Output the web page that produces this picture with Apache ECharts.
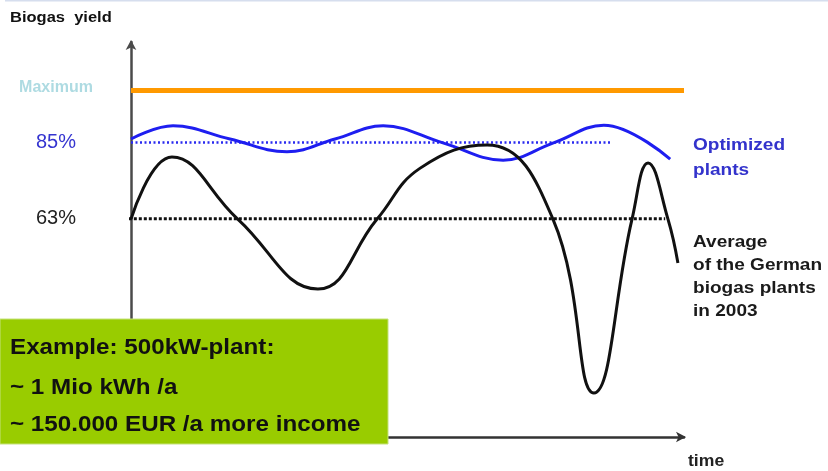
<!DOCTYPE html>
<html>
<head>
<meta charset="utf-8">
<script src="https://cdn.jsdelivr.net/npm/echarts@6/dist/echarts.min.js"></script>
<style>
  html, body { margin: 0; padding: 0; background: #ffffff; }
  #chart { width: 828px; height: 471px; }
</style>
</head>
<body>
<div id="chart"></div>
<script>
// Biogas yield over time: optimized plants vs. the German average (2003)

// Reference levels (percent of maximum yield)
const maxLevel = 100;
const optimizedLevel = 85;
const averageLevel = 63;

// Horizontal extent (time units) of each reference line
const maxLineTime = [0, 100];
const optimizedLineTime = [0, 87];
const averageLineTime = [-1.3, 96.6];

// Optimized plants: yield oscillating around the 85 % level
const optimizedTime  = [0,    7.6,  17.9, 28.2, 36.9, 45.6, 56.4, 67.3, 76.4, 85.5, 97.5];
const optimizedYield = [86.0, 89.8, 86.0, 82.3, 86.0, 89.8, 84.9, 79.9, 84.9, 90.0, 80.2];

// Average German biogas plant (2003)
const averageTime  = [0,    7.4,  19.3, 33.8, 44.5, 52.3, 64.4, 76.3, 83.7, 90.6, 93.5, 97.1, 98.9];
const averageYield = [62.9, 80.8, 62.9, 42.7, 62.9, 77.6, 84.3, 62.9, 12.7, 62.9, 79.1, 62.9, 50.2];

// Labels on the yield axis
const tickValues = [averageLevel, optimizedLevel, maxLevel];
const tickLabels = ['63%', '85%', 'Maximum'];

const pairs = (xs, ys) => xs.map((x, i) => [x, ys[i]]);
const flat = (xs, level) => xs.map(x => [x, level]);

const FONT = '"Liberation Sans", Arial, sans-serif';
const chart = echarts.init(document.getElementById('chart'), null, { renderer: 'canvas' });

chart.setOption({
  animation: false,
  backgroundColor: '#ffffff',
  grid: { left: 131, right: 144, top: 42, bottom: 34 },
  xAxis: {
    type: 'value',
    min: 0,
    max: 100,
    axisLine: {
      show: true,
      lineStyle: { color: '#333333', width: 2.5 },
      symbol: ['none', 'arrow'],
      symbolSize: [8, 10],
      symbolOffset: [0, 2]
    },
    axisTick: { show: false },
    axisLabel: { show: false },
    splitLine: { show: false }
  },
  yAxis: {
    type: 'value',
    min: 0,
    max: 114,
    axisLine: {
      show: true,
      lineStyle: { color: '#4a4a4a', width: 2.5 },
      symbol: ['none', 'arrow'],
      symbolSize: [8, 10],
      symbolOffset: [0, 2]
    },
    axisTick: { show: false },
    splitLine: { show: false },
    axisLabel: {
      customValues: tickValues,
      align: 'center',
      margin: 75,
      formatter: function (v) {
        const i = tickValues.indexOf(v);
        const style = v === maxLevel ? 'max' : (v === optimizedLevel ? 'opt' : 'avg');
        return '{' + style + '|' + tickLabels[i] + '}';
      },
      rich: {
        max: { fontFamily: FONT, fontSize: 16, fontWeight: 'bold', color: '#aedbe2', padding: [0, 0, 5, 0] },
        opt: { fontFamily: FONT, fontSize: 20, color: '#3535d0' },
        avg: { fontFamily: FONT, fontSize: 20, color: '#222222' }
      }
    }
  },
  series: [
    {
      name: 'Maximum',
      type: 'line',
      data: flat(maxLineTime, maxLevel),
      symbol: 'none',
      lineStyle: { color: '#ff9900', width: 5, cap: 'butt' },
      z: 2
    },
    {
      name: '85%',
      type: 'line',
      data: flat(optimizedLineTime, optimizedLevel),
      symbol: 'none',
      lineStyle: { color: '#2a2af0', width: 2.5, type: [2, 2.5] },
      z: 2
    },
    {
      name: '63%',
      type: 'line',
      data: flat(averageLineTime, averageLevel),
      symbol: 'none',
      clip: false,
      lineStyle: { color: '#111111', width: 3, type: [3, 2] },
      z: 2
    },
    {
      name: 'Optimized plants',
      type: 'line',
      data: pairs(optimizedTime, optimizedYield),
      symbol: 'none',
      smooth: 0.4,
      lineStyle: { color: '#1e1ef0', width: 3 },
      z: 3
    },
    {
      name: 'Average of the German biogas plants in 2003',
      type: 'line',
      data: pairs(averageTime, averageYield),
      symbol: 'none',
      smooth: 0.45,
      clip: false,
      lineStyle: { color: '#111111', width: 3 },
      z: 4
    }
  ],
  graphic: [
    {
      type: 'line',
      z: 50,
      shape: { x1: 5, y1: 0.5, x2: 828, y2: 0.5 },
      style: { stroke: '#d6deee', lineWidth: 2 }
    },
    {
      type: 'text', z: 50, x: 10, y: 18, scaleX: 1.1,
      style: { text: 'Biogas  yield', font: 'bold 15px ' + FONT, fill: '#111111', verticalAlign: 'middle' }
    },
    {
      type: 'text', z: 50, x: 688, y: 462, scaleX: 1.1,
      style: { text: 'time', font: 'bold 16px ' + FONT, fill: '#222222', verticalAlign: 'middle' }
    },
    {
      type: 'text', z: 50, x: 693, y: 133, scaleX: 1.12,
      style: { text: 'Optimized\nplants', font: 'bold 17px ' + FONT, lineHeight: 25, fill: '#3333cc', verticalAlign: 'top' }
    },
    {
      type: 'text', z: 50, x: 693, y: 231, scaleX: 1.12,
      style: { text: 'Average\nof the German\nbiogas plants\nin 2003', font: 'bold 17px ' + FONT, lineHeight: 23, fill: '#1a1a1a', verticalAlign: 'top' }
    },
    {
      type: 'rect', z: 60,
      shape: { x: 0, y: 319, width: 388, height: 125 },
      style: { fill: '#99cc00', stroke: '#c4e27a', lineWidth: 1 }
    },
    {
      type: 'text', z: 61, x: 10, y: 348, scaleX: 1.1,
      style: { text: 'Example: 500kW-plant:', font: 'bold 22px ' + FONT, fill: '#111111', verticalAlign: 'middle' }
    },
    {
      type: 'text', z: 61, x: 10, y: 388, scaleX: 1.1,
      style: { text: '~ 1 Mio kWh /a', font: 'bold 22px ' + FONT, fill: '#111111', verticalAlign: 'middle' }
    },
    {
      type: 'text', z: 61, x: 10, y: 425, scaleX: 1.1,
      style: { text: '~ 150.000 EUR /a more income', font: 'bold 22px ' + FONT, fill: '#111111', verticalAlign: 'middle' }
    }
  ]
});
</script>
</body>
</html>
